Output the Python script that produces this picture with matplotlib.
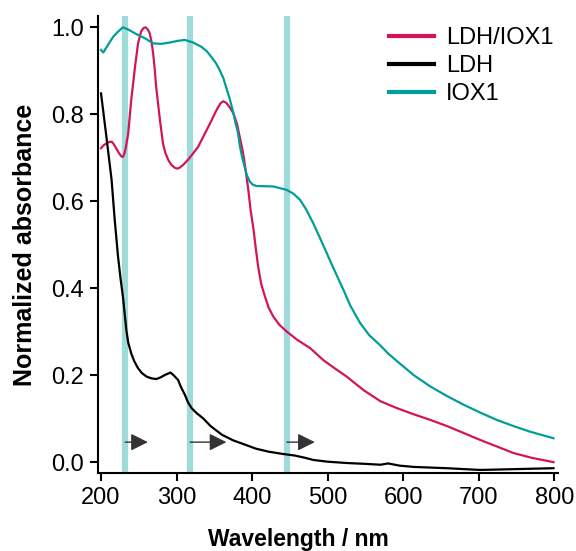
import numpy as np
import matplotlib.pyplot as plt

plt.rcParams['font.family'] = ['Liberation Sans', 'DejaVu Sans']

# LDH/IOX1 spectrum
wl_mix = [200, 203, 207, 210, 214, 217, 220, 224, 227, 229, 231, 233, 236, 240,
          245, 249, 253, 256, 259, 262, 264.5, 267, 269, 271, 273, 278, 282, 285,
          289, 293, 297.6, 301, 304, 309, 315, 321, 328.5, 335, 342, 348, 353,
          358, 362, 366, 370, 375, 380, 384, 388, 392, 395, 398, 402, 405, 408,
          412, 417, 422, 428, 436, 446, 460, 477, 494, 510, 525, 548, 570, 592,
          614, 636, 658, 680, 702, 724, 746, 770, 799]
ab_mix = [0.722, 0.728, 0.733, 0.736, 0.737, 0.731, 0.722, 0.710, 0.703, 0.702,
          0.710, 0.725, 0.756, 0.833, 0.909, 0.963, 0.990, 0.998, 1.000, 0.995,
          0.986, 0.965, 0.940, 0.905, 0.863, 0.787, 0.733, 0.712, 0.695, 0.684,
          0.677, 0.675, 0.677, 0.684, 0.695, 0.708, 0.725, 0.747, 0.771, 0.792,
          0.810, 0.825, 0.830, 0.826, 0.817, 0.803, 0.778, 0.745, 0.712, 0.665,
          0.626, 0.580, 0.534, 0.490, 0.450, 0.410, 0.381, 0.355, 0.335, 0.316,
          0.300, 0.281, 0.262, 0.235, 0.215, 0.197, 0.165, 0.140, 0.124, 0.110,
          0.097, 0.083, 0.067, 0.051, 0.036, 0.021, 0.010, 0.000]

# LDH spectrum
wl_ldh = [200, 207, 214, 218, 222.5, 226, 229, 233.5, 236, 240, 244, 249, 254,
          260, 266, 273, 279, 284, 288, 292, 296, 302, 306, 311, 315, 320, 327,
          335, 345, 360, 375, 391, 405, 422, 440, 457, 470, 481, 500, 525, 550,
          570, 580, 595, 614, 658, 702, 750, 799]
ab_ldh = [0.848, 0.750, 0.649, 0.560, 0.473, 0.420, 0.381, 0.304, 0.275, 0.250,
          0.232, 0.216, 0.205, 0.197, 0.193, 0.191, 0.195, 0.200, 0.203, 0.206,
          0.200, 0.189, 0.172, 0.155, 0.138, 0.124, 0.112, 0.101, 0.083, 0.063,
          0.050, 0.040, 0.031, 0.024, 0.019, 0.015, 0.010, 0.005, 0.001, -0.002,
          -0.004, -0.006, -0.003, -0.008, -0.011, -0.014, -0.018, -0.016, -0.014]

# IOX1 spectrum
wl_iox = [200, 203, 209, 216, 222.5, 229, 236, 245, 258, 269, 280, 291, 302,
          311, 322, 333, 340, 346, 352, 357, 362, 366, 370, 375, 378, 381, 384,
          387, 390, 393, 397, 401, 406, 428, 446, 455, 463.6, 472, 481, 490, 499,
          508, 517, 521, 530, 543, 555, 570, 580, 592, 614, 636, 658, 680, 702,
          724, 746, 768, 799]
ab_iox = [0.948, 0.942, 0.959, 0.978, 0.990, 1.000, 0.995, 0.986, 0.975, 0.963,
          0.962, 0.965, 0.969, 0.971, 0.965, 0.955, 0.945, 0.932, 0.918, 0.902,
          0.883, 0.860, 0.838, 0.805, 0.780, 0.760, 0.725, 0.700, 0.680, 0.660,
          0.645, 0.638, 0.635, 0.634, 0.626, 0.617, 0.603, 0.580, 0.549, 0.515,
          0.480, 0.445, 0.411, 0.396, 0.360, 0.320, 0.292, 0.268, 0.250, 0.232,
          0.200, 0.174, 0.152, 0.132, 0.114, 0.097, 0.083, 0.070, 0.055]

# excitation lines and arrows
marker_wl = [232, 318, 446]
arrow_end = [262, 366, 483]
arrow_y = 0.046

c_mix = '#d4145a'
c_iox = '#009e98'

fig = plt.figure(figsize=(5.76, 5.51), dpi=100)
ax = fig.add_axes([98 / 576, 78 / 551, 460 / 576, 457 / 551])

for w in marker_wl:
    ax.axvline(w, color='#9fdbd8', lw=4.5, zorder=1)

ax.plot(wl_mix, ab_mix, color=c_mix, lw=1.6, label='LDH/IOX1', zorder=3)
ax.plot(wl_ldh, ab_ldh, color='black', lw=1.6, label='LDH', zorder=3)
ax.plot(wl_iox, ab_iox, color=c_iox, lw=1.6, label='IOX1', zorder=3)

for w0, w1 in zip(marker_wl, arrow_end):
    ax.annotate('', xy=(w1, arrow_y), xytext=(w0, arrow_y),
                arrowprops=dict(arrowstyle='-|>', color='#333333', lw=1.0,
                                mutation_scale=26, shrinkA=0, shrinkB=0),
                zorder=4)

ax.set_xlim(196, 805)
ax.set_ylim(-0.025, 1.026)
ax.set_xticks([200, 300, 400, 500, 600, 700, 800])
ax.set_yticks([0.0, 0.2, 0.4, 0.6, 0.8, 1.0])
ax.set_yticklabels(['0.0', '0.2', '0.4', '0.6', '0.8', '1.0'])
ax.spines['top'].set_visible(False)
ax.spines['right'].set_visible(False)
for s in ['left', 'bottom']:
    ax.spines[s].set_linewidth(1.5)
ax.tick_params(direction='out', length=6, width=1.5, labelsize=17, pad=4)

ax.set_xlabel('Wavelength / nm', fontsize=16.5, fontweight='bold')
ax.xaxis.set_label_coords(0.435, -0.12)
ax.set_ylabel('Normalized absorbance', fontsize=18, fontweight='bold', labelpad=10)

leg = ax.legend(loc='upper right', bbox_to_anchor=(1.026, 1.012), frameon=False,
                fontsize=17, handlelength=1.9, handletextpad=0.5,
                labelspacing=0.25, borderaxespad=0.3)
for line in leg.get_lines():
    line.set_linewidth(3)

fig.savefig('out.png', dpi=100)
